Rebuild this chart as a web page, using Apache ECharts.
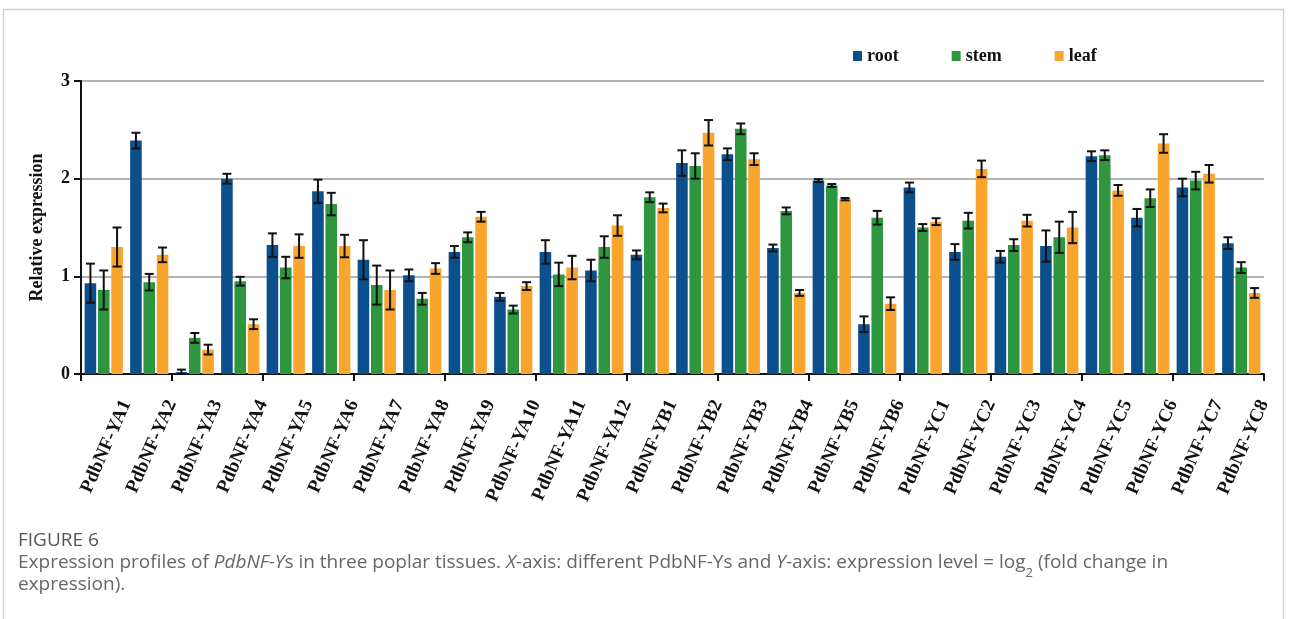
<!DOCTYPE html>
<html>
<head>
<meta charset="utf-8">
<script src="https://cdn.jsdelivr.net/npm/echarts@6/dist/echarts.min.js"></script>
<style>
  html, body { margin: 0; padding: 0; background: #ffffff; }
  #chart { width: 1290px; height: 619px; }
</style>
</head>
<body>
<div id="chart"></div>
<script>
// Genes on the x axis
const genes = ['PdbNF-YA1', 'PdbNF-YA2', 'PdbNF-YA3', 'PdbNF-YA4', 'PdbNF-YA5', 'PdbNF-YA6',
  'PdbNF-YA7', 'PdbNF-YA8', 'PdbNF-YA9', 'PdbNF-YA10', 'PdbNF-YA11', 'PdbNF-YA12',
  'PdbNF-YB1', 'PdbNF-YB2', 'PdbNF-YB3', 'PdbNF-YB4', 'PdbNF-YB5', 'PdbNF-YB6',
  'PdbNF-YC1', 'PdbNF-YC2', 'PdbNF-YC3', 'PdbNF-YC4', 'PdbNF-YC5', 'PdbNF-YC6',
  'PdbNF-YC7', 'PdbNF-YC8'];

// Relative expression (log2 fold change) per tissue, with standard errors
const rootValues = [0.93, 2.39, 0.02, 2.00, 1.32, 1.87, 1.17, 1.01, 1.25, 0.79, 1.25, 1.06, 1.22,
  2.16, 2.25, 1.29, 1.98, 0.51, 1.91, 1.25, 1.20, 1.31, 2.23, 1.60, 1.91, 1.34];
const rootErrors = [0.20, 0.08, 0.025, 0.05, 0.12, 0.12, 0.20, 0.06, 0.06, 0.04, 0.12, 0.11, 0.045,
  0.13, 0.06, 0.035, 0.015, 0.08, 0.05, 0.08, 0.06, 0.16, 0.05, 0.09, 0.09, 0.06];
const stemValues = [0.86, 0.94, 0.37, 0.95, 1.09, 1.74, 0.91, 0.77, 1.40, 0.66, 1.02, 1.30, 1.81,
  2.13, 2.51, 1.67, 1.93, 1.60, 1.50, 1.57, 1.32, 1.40, 2.24, 1.80, 1.98, 1.09];
const stemErrors = [0.20, 0.085, 0.05, 0.045, 0.11, 0.115, 0.20, 0.06, 0.05, 0.04, 0.12, 0.11, 0.05,
  0.13, 0.055, 0.035, 0.015, 0.07, 0.035, 0.08, 0.06, 0.16, 0.05, 0.09, 0.09, 0.055];
const leafValues = [1.30, 1.22, 0.25, 0.51, 1.31, 1.31, 0.86, 1.08, 1.61, 0.90, 1.09, 1.52, 1.70,
  2.47, 2.20, 0.83, 1.79, 0.72, 1.56, 2.10, 1.57, 1.50, 1.88, 2.36, 2.05, 0.83];
const leafErrors = [0.20, 0.075, 0.05, 0.05, 0.12, 0.115, 0.20, 0.055, 0.05, 0.04, 0.12, 0.105, 0.045,
  0.13, 0.06, 0.03, 0.012, 0.065, 0.035, 0.085, 0.06, 0.16, 0.055, 0.095, 0.09, 0.05];

const yTicks = [0, 1, 2, 3];

const tissues = [
  { name: 'root', color: '#0B508C', values: rootValues, errors: rootErrors },
  { name: 'stem', color: '#2E963E', values: stemValues, errors: stemErrors },
  { name: 'leaf', color: '#F9A42C', values: leafValues, errors: leafErrors }
];

const SERIF = "'Liberation Serif', 'Times New Roman', serif";
const SANS = "'Open Sans', 'Noto Sans', sans-serif";
const CAT_GAP = 0.16;   // barCategoryGap as a fraction of the band
const BAR_GAP = 0.15;   // barGap as a fraction of a bar

// Error bar for bar #k of a group, placed the same way ECharts lays out grouped bars
function errorBarRenderer(k) {
  return function (params, api) {
    const idx = api.value(0);
    const val = api.value(1);
    const err = api.value(2);
    const band = api.size([1, 0])[0];
    const n = tissues.length;
    const avail = band * (1 - CAT_GAP);
    const bw = avail / (n + (n - 1) * BAR_GAP);
    const total = bw * n + bw * BAR_GAP * (n - 1);
    const center = api.coord([idx, val])[0];
    const x = center - total / 2 + k * bw * (1 + BAR_GAP) + bw / 2;
    const yHi = api.coord([idx, val + err])[1];
    const yLo = api.coord([idx, Math.max(val - err, 0)])[1];
    const cap = 4.5;
    const style = { stroke: '#111111', lineWidth: 2 };
    return {
      type: 'group',
      children: [
        { type: 'line', shape: { x1: x, y1: yHi, x2: x, y2: yLo }, style },
        { type: 'line', shape: { x1: x - cap, y1: yHi, x2: x + cap, y2: yHi }, style },
        { type: 'line', shape: { x1: x - cap, y1: yLo, x2: x + cap, y2: yLo }, style }
      ]
    };
  };
}

const barSeries = tissues.map(t => ({
  name: t.name,
  type: 'bar',
  xAxisIndex: 0,
  data: t.values,
  barCategoryGap: (CAT_GAP * 100) + '%',
  barGap: (BAR_GAP * 100) + '%',
  itemStyle: { color: t.color },
  emphasis: { disabled: true },
  z: 2
}));

const errSeries = tissues.map((t, k) => ({
  name: t.name + ' error',
  type: 'custom',
  xAxisIndex: 0,
  renderItem: errorBarRenderer(k),
  data: t.values.map((v, i) => [i, v, t.errors[i]]),
  encode: { x: 0, y: 1 },
  z: 5,
  silent: true
}));

const chart = echarts.init(document.getElementById('chart'), null, { renderer: 'canvas' });

chart.setOption({
  backgroundColor: '#ffffff',
  animation: false,
  textStyle: { fontFamily: SERIF },
  legend: {
    data: tissues.map(t => t.name),
    left: 848,
    top: 42,
    icon: 'rect',
    itemWidth: 9,
    itemHeight: 10,
    itemGap: 53,
    textStyle: { fontFamily: SERIF, fontSize: 18, fontWeight: 'bold', color: '#111111' }
  },
  grid: { left: 81, right: 26, top: 81, bottom: 245, containLabel: false },
  xAxis: [
    {
      type: 'category',
      data: genes,
      axisLine: { lineStyle: { color: '#111111', width: 2 } },
      axisTick: { show: true, length: 7, lineStyle: { color: '#111111', width: 2 } },
      axisLabel: { show: false },
      splitLine: { show: false }
    },
    {
      // Gene names sit under the right-hand tick of each group
      type: 'value',
      position: 'bottom',
      min: 0,
      max: genes.length,
      interval: 1,
      axisLine: { show: false },
      axisTick: { show: false },
      splitLine: { show: false },
      axisLabel: {
        rotate: 66,
        margin: 27,
        fontFamily: SERIF,
        fontSize: 19,
        fontWeight: 'bold',
        color: '#111111',
        formatter: v => (v >= 1 ? genes[v - 1] : '')
      }
    }
  ],
  yAxis: {
    type: 'value',
    min: yTicks[0],
    max: yTicks[yTicks.length - 1],
    interval: 1,
    name: 'Relative expression',
    nameLocation: 'middle',
    nameGap: 35,
    nameTextStyle: { fontFamily: SERIF, fontSize: 18, fontWeight: 'bold', color: '#111111' },
    axisLine: { show: true, lineStyle: { color: '#111111', width: 2 } },
    axisTick: { show: true, length: 7, lineStyle: { color: '#111111', width: 2 } },
    axisLabel: { margin: 11, fontFamily: SERIF, fontSize: 18, fontWeight: 'bold', color: '#111111' },
    splitLine: { show: true, lineStyle: { color: '#9a9a9a', width: 1.5 } }
  },
  series: barSeries.concat(errSeries),
  graphic: [
    {
      type: 'rect',
      silent: true,
      shape: { x: 3.5, y: 9.5, width: 1280, height: 700 },
      style: { fill: 'none', stroke: '#cfcfcf', lineWidth: 1.5 },
      z: -10
    },
    {
      type: 'text',
      left: 18,
      top: 531,
      style: {
        text: 'FIGURE 6',
        fontFamily: SANS,
        fontSize: 19,
        fontWeight: 'normal',
        fill: '#555555'
      }
    },
    {
      type: 'text',
      left: 18,
      top: 553,
      style: {
        text: '{a|Expression profiles of }{i|PdbNF-Y}{a|s in three poplar tissues. }{i|X}{a|-axis: different PdbNF-Ys and }{i|Y}{a|-axis: expression level = log}{s|2}{a| (fold change in}\n{a|expression).}',
        fontFamily: SANS,
        fontSize: 19,
        fill: '#666666',
        rich: {
          a: { fontFamily: SANS, fontSize: 19, color: '#666666', lineHeight: 22 },
          i: { fontFamily: SANS, fontSize: 19, fontStyle: 'italic', color: '#666666', lineHeight: 22 },
          s: { fontFamily: SANS, fontSize: 13, color: '#666666', lineHeight: 22, verticalAlign: 'bottom', padding: [0, 0, -6, 0] }
        }
      }
    }
  ]
});
</script>
</body>
</html>
